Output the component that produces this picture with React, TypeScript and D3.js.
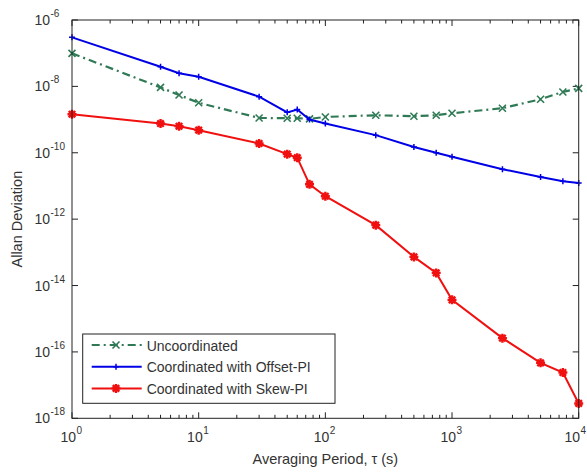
import * as d3 from "d3";

// averaging periods (s)
const tau = [1, 5, 7, 10, 30, 50, 60, 75, 100, 250, 500, 750, 1000, 2500, 5000, 7500, 10000];

const uncoordinated = [
  9.9e-8, 9.3e-9, 5.5e-9, 3.2e-9, 1.12e-9, 1.1e-9, 1.1e-9, 1.05e-9, 1.2e-9, 1.35e-9, 1.26e-9, 1.35e-9,
  1.55e-9, 2.2e-9, 4.1e-9, 6.8e-9, 8.7e-9,
];
const offsetPI = [
  3e-7, 3.9e-8, 2.5e-8, 1.95e-8, 4.9e-9, 1.65e-9, 2e-9, 1.0e-9, 7.6e-10, 3.4e-10, 1.5e-10, 1.0e-10, 7.6e-11,
  3.2e-11, 1.87e-11, 1.38e-11, 1.23e-11,
];
const skewPI = [
  1.45e-9, 7.6e-10, 6.3e-10, 4.8e-10, 1.9e-10, 9.1e-11, 7.1e-11, 1.12e-11, 4.9e-12, 6.6e-13, 7.3e-14, 2.4e-14,
  3.7e-15, 2.6e-16, 4.7e-17, 2.4e-17, 2.8e-18,
];

const xTickExp = [0, 1, 2, 3, 4];
const yTickExp = [-6, -8, -10, -12, -14, -16, -18];
const legendLabels = ["Uncoordinated", "Coordinated with Offset-PI", "Coordinated with Skew-PI"];

const W = 587;
const H = 475;
const m = { left: 72, top: 20, right: 578.7, bottom: 418.3 };
const FONT = "'Liberation Sans', Arial, sans-serif";
const TXT = "#333";

const GREEN = "#2f7a55";
const BLUE = "#0000e6";
const RED = "#f01010";

function Marker({ kind, x, y, color }: { kind: string; x: number; y: number; color: string }) {
  if (kind === "x") {
    const s = 3.5;
    return (
      <path d={`M${x - s},${y - s}L${x + s},${y + s}M${x - s},${y + s}L${x + s},${y - s}`} stroke={color} strokeWidth={1.6} />
    );
  }
  if (kind === "+") {
    const s = 3;
    return <path d={`M${x - s},${y}L${x + s},${y}M${x},${y - s}L${x},${y + s}`} stroke={color} strokeWidth={1.5} />;
  }
  const s = 4.5;
  const d = s * 0.72;
  return (
    <path
      d={`M${x - s},${y}L${x + s},${y}M${x},${y - s}L${x},${y + s}M${x - d},${y - d}L${x + d},${y + d}M${x - d},${y + d}L${x + d},${y - d}`}
      stroke={color}
      strokeWidth={2.4}
    />
  );
}

export default function App() {
  const x = d3.scaleLog().domain([1, 1e4]).range([m.left, m.right]);
  const y = d3.scaleLog().domain([1e-18, 1e-6]).range([m.bottom, m.top]);
  const line = d3
    .line<number>()
    .x((_, i) => x(tau[i]))
    .y((d) => y(d));

  const series = [
    { data: uncoordinated, color: GREEN, dash: "8,4,2,4", width: 2.2, marker: "x" },
    { data: skewPI, color: RED, dash: undefined, width: 2, marker: "*" },
    { data: offsetPI, color: BLUE, dash: undefined, width: 2, marker: "+" },
  ];
  const legendSeries = [series[0], series[2], series[1]];

  const minor: number[] = [];
  for (let e = 0; e < 4; e++) for (let k = 2; k <= 9; k++) minor.push(k * Math.pow(10, e));

  return (
    <svg width={W} height={H} style={{ position: "fixed", left: 0, top: 0, background: "#fff" }} fontFamily={FONT}>
      <rect x={0} y={0} width={W} height={H} fill="#fff" />
      {/* ticks */}
      <g stroke="#222" strokeWidth={1}>
        {xTickExp.map((e) => (
          <g key={"xt" + e}>
            <line x1={x(10 ** e)} x2={x(10 ** e)} y1={m.bottom} y2={m.bottom - 6} />
            <line x1={x(10 ** e)} x2={x(10 ** e)} y1={m.top} y2={m.top + 6} />
          </g>
        ))}
        {minor.map((v) => (
          <g key={"xm" + v}>
            <line x1={x(v)} x2={x(v)} y1={m.bottom} y2={m.bottom - 3.5} />
            <line x1={x(v)} x2={x(v)} y1={m.top} y2={m.top + 3.5} />
          </g>
        ))}
        {yTickExp.map((e) => (
          <g key={"yt" + e}>
            <line x1={m.left} x2={m.left + 6} y1={y(10 ** e)} y2={y(10 ** e)} />
            <line x1={m.right} x2={m.right - 6} y1={y(10 ** e)} y2={y(10 ** e)} />
          </g>
        ))}
      </g>
      {/* series */}
      {series.map((s, si) => (
        <g key={"s" + si}>
          <path d={line(s.data) || ""} fill="none" stroke={s.color} strokeWidth={s.width} strokeDasharray={s.dash} />
          {s.data.map((v, i) => (
            <Marker key={i} kind={s.marker} x={x(tau[i])} y={y(v)} color={s.color} />
          ))}
        </g>
      ))}
      {/* frame */}
      <rect
        x={m.left}
        y={m.top}
        width={m.right - m.left}
        height={m.bottom - m.top}
        fill="none"
        stroke="#222"
        strokeWidth={1}
      />
      {/* tick labels */}
      <g fill={TXT}>
        {yTickExp.map((e) => (
          <g key={"yl" + e}>
            <text x={50} y={y(10 ** e) + 5} fontSize={14} textAnchor="end">
              10
            </text>
            <text x={50.5} y={y(10 ** e) - 3} fontSize={10}>
              {String(e)}
            </text>
          </g>
        ))}
        {xTickExp.map((e) => {
          const cx = Math.min(x(10 ** e) + 4, W - 7);
          return (
            <g key={"xl" + e}>
              <text x={cx} y={442} fontSize={14} textAnchor="end">
                10
              </text>
              <text x={cx + 0.5} y={434} fontSize={10}>
                {String(e)}
              </text>
            </g>
          );
        })}
      </g>
      {/* axis labels */}
      <text x={(m.left + m.right) / 2} y={464} fontSize={14.5} textAnchor="middle" fill={TXT}>
        Averaging Period, τ (s)
      </text>
      <text
        transform={`translate(22,${(m.top + m.bottom) / 2}) rotate(-90)`}
        fontSize={14.5}
        textAnchor="middle"
        fill={TXT}
      >
        Allan Deviation
      </text>
      {/* legend */}
      <g>
        <rect x={82.7} y={334} width={252.3} height={69.3} fill="#fff" stroke="#222" strokeWidth={1} />
        {legendSeries.map((s, i) => {
          const ly = 345 + i * 21.7;
          return (
            <g key={"lg" + i}>
              <line x1={91.7} x2={141.7} y1={ly} y2={ly} stroke={s.color} strokeWidth={s.width} strokeDasharray={s.dash} />
              <Marker kind={s.marker} x={116} y={ly} color={s.color} />
              <text x={146.7} y={ly + 5.5} fontSize={14} fill={TXT}>
                {legendLabels[i]}
              </text>
            </g>
          );
        })}
      </g>
    </svg>
  );
}
